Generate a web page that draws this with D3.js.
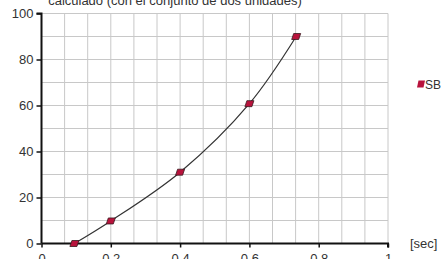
<!DOCTYPE html>
<html>
<head>
<meta charset="utf-8">
<script src="https://cdn.jsdelivr.net/npm/d3@7"></script>
<style>
  body { margin: 0; background: #fff; }
  svg { display: block; font-family: "Liberation Sans", Arial, sans-serif; }
</style>
</head>
<body>
<svg id="chart" width="441" height="259"></svg>
<script>
// data
var seriesName = "SB";
var timeSec = [0.095, 0.2, 0.4, 0.6, 0.735];
var values = [0, 9.8, 31, 60.8, 90];
var xTicks = [0, 0.2, 0.4, 0.6, 0.8, 1];
var yTicks = [0, 20, 40, 60, 80, 100];
var titleText = "calculado (con el conjunto de dos unidades)";
var xUnit = "[sec]";

var svg = d3.select("#chart"),
    margin = { top: 13.5, right: 53, bottom: 15.5, left: 41.5 },
    width = +svg.attr("width") - margin.left - margin.right,
    height = +svg.attr("height") - margin.top - margin.bottom,
    g = svg.append("g").attr("transform", "translate(" + margin.left + "," + margin.top + ")");

var x = d3.scaleLinear().domain([0, 1]).range([0, width]);
var y = d3.scaleLinear().domain([0, 100]).range([height, 0]);

// grid
g.append("g")
    .selectAll("line")
    .data(d3.range(1, 16).map(function (i) { return i / 15; }))
    .enter().append("line")
    .attr("x1", function (d) { return x(d); })
    .attr("x2", function (d) { return x(d); })
    .attr("y1", 0)
    .attr("y2", height)
    .attr("stroke", "#c8c8c8");

g.append("g")
    .selectAll("line")
    .data(d3.range(1, 11).map(function (i) { return i * 10; }))
    .enter().append("line")
    .attr("x1", 0)
    .attr("x2", width)
    .attr("y1", function (d) { return y(d); })
    .attr("y2", function (d) { return y(d); })
    .attr("stroke", "#c8c8c8");

// axes
var yAxis = g.append("g")
    .call(d3.axisLeft(y).tickValues(yTicks).tickSize(5).tickPadding(3));
var xAxis = g.append("g")
    .attr("transform", "translate(0," + height + ")")
    .call(d3.axisBottom(x).tickValues(xTicks).tickSize(4).tickPadding(6).tickFormat(d3.format("")));

[yAxis, xAxis].forEach(function (a) {
    a.select(".domain").attr("stroke", "#111").attr("stroke-width", 2);
    a.selectAll(".tick line").attr("stroke", "#111").attr("stroke-width", 1.5);
    a.selectAll(".tick text").attr("fill", "#333").attr("font-size", 13);
});
yAxis.select(".domain").attr("d", "M-5,0H0V" + height);
xAxis.select(".domain").attr("d", "M0,0H" + width + "V4");

// title
svg.append("text")
    .attr("x", 175)
    .attr("y", 5)
    .attr("text-anchor", "middle")
    .attr("font-size", 13)
    .attr("fill", "#333")
    .text(titleText);

// unit
svg.append("text")
    .attr("x", 410)
    .attr("y", 248)
    .attr("font-size", 13)
    .attr("fill", "#333")
    .text(xUnit);

var pts = timeSec.map(function (t, i) { return [t, values[i]]; });

var line = d3.line()
    .x(function (d) { return x(d[0]); })
    .y(function (d) { return y(d[1]); })
    .curve(d3.curveCatmullRom);

g.append("path")
    .datum(pts)
    .attr("d", line)
    .attr("fill", "none")
    .attr("stroke", "#333")
    .attr("stroke-width", 1.2);

var marker = "M-2.5,-3L4.5,-3L2.5,3L-4.5,3Z";

g.append("g")
    .selectAll("path")
    .data(pts)
    .enter().append("path")
    .attr("transform", function (d) { return "translate(" + x(d[0]) + "," + y(d[1]) + ")"; })
    .attr("d", marker)
    .attr("fill", "#b8133c")
    .attr("stroke", "#3a1a20")
    .attr("stroke-width", 0.8);

// legend
var legend = svg.append("g").attr("transform", "translate(421,84)");
legend.append("path")
    .attr("d", "M-2.5,-3.5L4,-3.5L2.5,3.5L-4,3.5Z")
    .attr("fill", "#b8133c");
legend.append("text")
    .attr("x", 4)
    .attr("y", 4.5)
    .attr("font-size", 12)
    .attr("fill", "#333")
    .text(seriesName);
</script>
</body>
</html>
